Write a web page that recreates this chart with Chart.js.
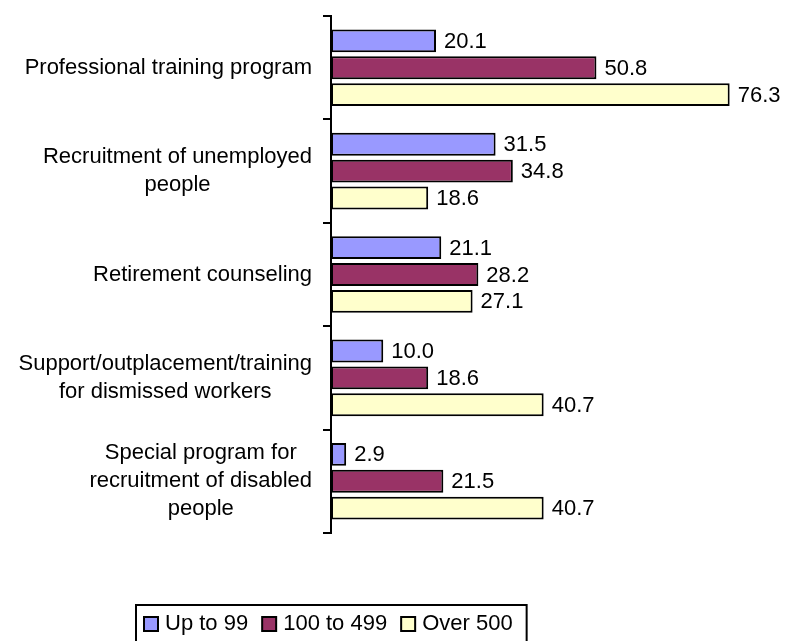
<!DOCTYPE html>
<html>
<head>
<meta charset="utf-8">
<title>Programs by company size</title>
<script src="https://cdn.jsdelivr.net/npm/chart.js@4.4.1/dist/chart.umd.min.js"></script>
<style>
    html, body { margin: 0; padding: 0; background: #fff; }
    #wrap { width: 798px; height: 641px; }
</style>
</head>
<body>
<div id="wrap"><canvas id="programs" width="798" height="641"></canvas></div>
<script>
(function(){
    'use strict'

    var categories = [
        'Professional training program',
        ['Recruitment of unemployed', 'people'],
        'Retirement counseling',
        ['Support/outplacement/training', 'for dismissed workers'],
        ['Special program for', 'recruitment of disabled', 'people']
    ];
    var seriesNames = ['Up to 99', '100 to 499', 'Over 500'];
    var upTo99 = [20.1, 31.5, 21.1, 10.0, 2.9];
    var from100to499 = [50.8, 34.8, 28.2, 18.6, 21.5];
    var over500 = [76.3, 18.6, 27.1, 40.7, 40.7];
    var colors = ['#9999ff', '#993366', '#ffffcc'];

    var FONT = '22px "Liberation Sans", Arial, sans-serif';

    function dataset(i, values){
        return {
            label: seriesNames[i],
            data: values,
            backgroundColor: colors[i],
            borderColor: '#000',
            borderWidth: 2,
            borderSkipped: false,
            categoryPercentage: 0.78,
            barPercentage: 0.85
        };
    }

    // category names, right aligned as a block, each line centred inside it
    var categoryLabels = {
        id: 'categoryLabels',
        afterDraw: function(chart){
            var ctx = chart.ctx;
            var scale = chart.scales.y;
            var right = scale.right - 19;
            var lineHeight = 28;
            ctx.save();
            ctx.font = FONT;
            ctx.fillStyle = '#000';
            ctx.textAlign = 'center';
            ctx.textBaseline = 'middle';
            categories.forEach(function(cat, i){
                var lines = Array.isArray(cat) ? cat : [cat];
                var width = 0;
                lines.forEach(function(l){ width = Math.max(width, ctx.measureText(l).width); });
                var cx = right - width / 2;
                var cy = scale.getPixelForValue(i);
                var top = cy - (lines.length - 1) * lineHeight / 2;
                lines.forEach(function(l, j){
                    ctx.fillText(l, cx, top + j * lineHeight);
                });
            });
            ctx.restore();
        }
    };

    // value printed just past the end of each bar
    var valueLabels = {
        id: 'valueLabels',
        afterDatasetsDraw: function(chart){
            var ctx = chart.ctx;
            ctx.save();
            ctx.font = FONT;
            ctx.fillStyle = '#000';
            ctx.textAlign = 'left';
            ctx.textBaseline = 'middle';
            chart.data.datasets.forEach(function(ds, d){
                chart.getDatasetMeta(d).data.forEach(function(bar, i){
                    ctx.fillText(ds.data[i].toFixed(1), bar.x + 8, bar.y + 1);
                });
            });
            ctx.restore();
        }
    };

    // boxed legend below the plot, centred on the category axis
    var boxedLegend = {
        id: 'boxedLegend',
        afterDraw: function(chart){
            var ctx = chart.ctx;
            var sq = 14, gapText = 7, gapItem = 14, pad = 8;
            ctx.save();
            ctx.font = FONT;
            var total = 0;
            chart.data.datasets.forEach(function(ds, d){
                total += sq + gapText + ctx.measureText(ds.label).width;
                if (d < chart.data.datasets.length - 1) total += gapItem;
            });
            var boxW = total + pad * 2 + 6;
            var left = Math.round(chart.chartArea.left - boxW / 2);
            var top = 605;
            var cy = 624;
            ctx.lineWidth = 2;
            ctx.strokeStyle = '#000';
            ctx.strokeRect(left, top, boxW, 50);
            var x = left + pad;
            ctx.textBaseline = 'middle';
            chart.data.datasets.forEach(function(ds){
                ctx.fillStyle = ds.backgroundColor;
                ctx.fillRect(x, cy - sq / 2, sq, sq);
                ctx.lineWidth = 2;
                ctx.strokeRect(x, cy - sq / 2, sq, sq);
                x += sq + gapText;
                ctx.fillStyle = '#000';
                ctx.fillText(ds.label, x, cy);
                x += ctx.measureText(ds.label).width + gapItem;
            });
            ctx.restore();
        }
    };

    new Chart(document.getElementById('programs'), {
        type: 'bar',
        data: {
            labels: categories,
            datasets: [
                dataset(0, upTo99),
                dataset(1, from100to499),
                dataset(2, over500)
            ]
        },
        options: {
            indexAxis: 'y',
            responsive: false,
            animation: false,
            layout: {
                padding: { top: 16, right: 49, bottom: 108, left: 0 }
            },
            scales: {
                x: {
                    display: false,
                    min: 0,
                    max: 80
                },
                y: {
                    afterFit: function(scale){ scale.width = 331; },
                    ticks: { display: false },
                    grid: {
                        drawOnChartArea: false,
                        drawTicks: true,
                        tickLength: 8,
                        color: '#000',
                        lineWidth: 2
                    },
                    border: { display: true, color: '#000', width: 2 }
                }
            },
            plugins: {
                legend: { display: false },
                tooltip: { enabled: false }
            }
        },
        plugins: [categoryLabels, valueLabels, boxedLegend]
    });
})();
</script>
</body>
</html>
